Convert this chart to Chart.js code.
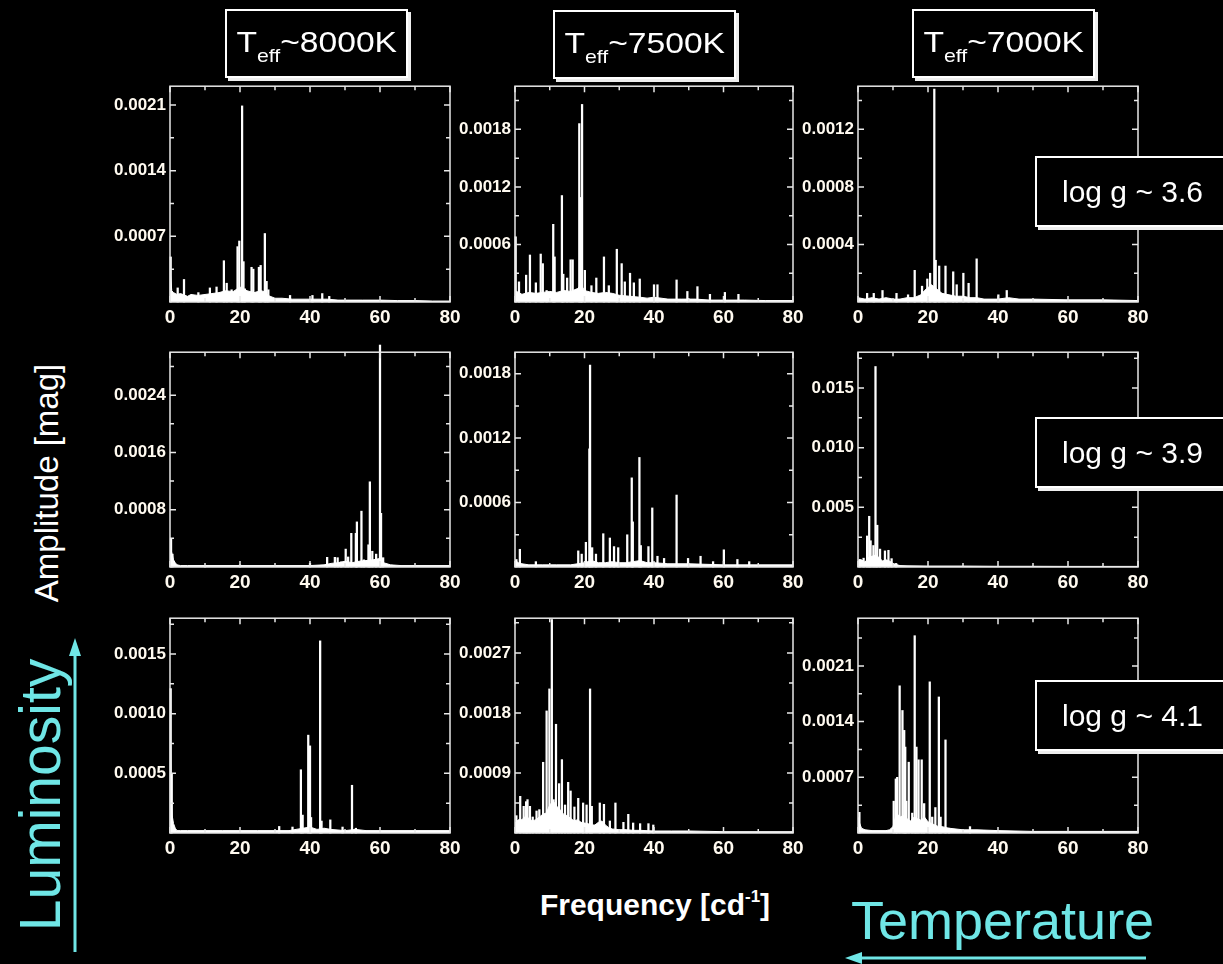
<!DOCTYPE html>
<html>
<head>
<meta charset="utf-8">
<script src="https://cdn.jsdelivr.net/npm/chart.js@4.4.1/dist/chart.umd.min.js"></script>
<style>
  body { margin: 0; background: #000; }
  #page { position: relative; width: 1223px; height: 964px; overflow: hidden; background: #000;
          font-family: "Liberation Sans", Arial, sans-serif; color: #fff; }
  .panel { position: absolute; z-index: 1; }
  .tbox { position: absolute; z-index: 2; box-sizing: border-box; border: 2px solid #fff; box-shadow: 3px 3px 0 #eee; background: #000; }
  .tbox .txt { position: absolute; left: 0; right: 0; line-height: 30px; font-size: 30px; white-space: nowrap; }
  .teff .txt { top: 16px; text-align: center; }
  .teff .inner { display: inline-block; transform: scaleX(1.12); }
  .teff .sub { font-size: 19px; vertical-align: -10px; }
  .logg .txt { top: 19px; left: 25px; }
  .vert { position: absolute; white-space: nowrap; transform: translate(-50%, -50%) rotate(-90deg); }
  .cyan { color: #6fe6e6; }
</style>
</head>
<body>
<div id="page">
  <div class="tbox teff" style="left:225px;top:9px;width:183px;height:69px"><div class="txt"><span class="inner">T<span class="sub">eff</span>~8000K</span></div></div>
  <div class="tbox teff" style="left:553px;top:10px;width:183px;height:69px"><div class="txt"><span class="inner">T<span class="sub">eff</span>~7500K</span></div></div>
  <div class="tbox teff" style="left:912px;top:9px;width:183px;height:69px"><div class="txt"><span class="inner">T<span class="sub">eff</span>~7000K</span></div></div>

  <div class="tbox logg" style="left:1035px;top:156px;width:210px;height:71px"><div class="txt">log g ~ 3.6</div></div>
  <div class="tbox logg" style="left:1035px;top:417px;width:210px;height:71px"><div class="txt">log g ~ 3.9</div></div>
  <div class="tbox logg" style="left:1035px;top:680px;width:210px;height:71px"><div class="txt">log g ~ 4.1</div></div>

  <div class="vert" style="left:47px;top:483px;font-size:33px">Amplitude [mag]</div>
  <div style="position:absolute;left:655px;top:882px;transform:translateX(-50%);font-size:30px;line-height:30px;font-weight:bold;white-space:nowrap">Frequency [cd<span style="font-size:17px;vertical-align:13px">-1</span>]</div>

  <div class="vert cyan" style="left:40px;top:795px;font-size:57px">Luminosity</div>
  <div class="cyan" style="position:absolute;left:851px;top:894px;font-size:54px;line-height:52px;white-space:nowrap">Temperature</div>

  <svg width="1223" height="964" style="position:absolute;left:0;top:0;pointer-events:none">
    <line x1="75" y1="952" x2="75" y2="650" stroke="#6fe6e6" stroke-width="3"/>
    <polygon points="75,638 69,656 81,656" fill="#6fe6e6"/>
    <line x1="1146" y1="958" x2="856" y2="958" stroke="#6fe6e6" stroke-width="3"/>
    <polygon points="845,958 862,952 862,964" fill="#6fe6e6"/>
  </svg>
</div>

<script>
// frequency axis (cd^-1)
const freqMin = 0;
const freqMax = 80;
const freqStep = 20;

// ---- Teff ~ 8000 K, log g ~ 3.6 ----
const peakFreq8000_36 = [0.2, 2.2, 4.0, 8.1, 11.4, 13.3, 15.4, 16.2, 17.6, 19.3, 19.8, 20.6, 21.0, 21.4, 23.3, 23.8, 25.4, 25.9, 27.1, 27.6, 28.1, 34.3, 40.7, 43.5, 45.5];
const peakAmp8000_36 = [0.00048, 0.00015, 0.00024, 0.0001, 0.00015, 0.00016, 0.00044, 0.0002, 0.00013, 0.00059, 0.00065, 0.00209, 0.00043, 0.00014, 0.00037, 0.00035, 0.00037, 0.00039, 0.00073, 0.00022, 0.00013, 0.00007, 0.00007, 0.00009, 0.00006];
const floorFreq8000_36 = [0, 0.5, 1, 2, 3, 5, 6, 8, 10, 12, 14, 16, 18, 20, 22, 24, 26, 27, 28, 30, 32, 35, 38, 40, 42, 45, 48, 50, 55, 60, 65, 70, 75, 80];
const floorAmp8000_36 = [0.00035, 0.00012, 0.0001, 0.00008, 0.00009, 0.00006, 0.00008, 0.00007, 0.00008, 0.00009, 0.0001, 0.00012, 0.00011, 0.00016, 0.00012, 0.0001, 0.00012, 0.00011, 0.00007, 0.00004, 0.00004, 0.00003, 0.00003, 0.00003, 0.00003, 0.00003, 0.00002, 0.00002, 0.00002, 0.00002, 0.000015, 0.000015, 0.00001, 0.00001];
const yLabels8000_36 = ['0.0007', '0.0014', '0.0021'];
const yMax8000_36 = 0.0023;

// ---- Teff ~ 7500 K, log g ~ 3.6 ----
const peakFreq7500_36 = [0.2, 1.15, 3.2, 4.3, 6.0, 7.4, 8.0, 9.1, 11.0, 11.4, 13.5, 13.9, 15.0, 16.0, 16.6, 18.5, 18.9, 19.3, 20.1, 22.0, 23.4, 25.6, 27.0, 29.3, 30.7, 31.6, 33.1, 34.2, 35.9, 40.0, 41.0, 46.5, 49.6, 52.5, 56.1, 60.4, 64.3];
const peakAmp7500_36 = [0.00068, 0.00021, 0.00028, 0.00049, 0.0002, 0.0005, 0.0004, 0.00012, 0.00081, 0.00047, 0.00111, 0.00029, 0.00025, 0.00044, 0.00044, 0.00186, 0.00109, 0.00206, 0.00033, 0.00017, 0.00025, 0.00047, 0.00017, 0.00055, 0.0004, 0.00021, 0.0003, 0.0002, 0.00024, 0.00018, 0.00018, 0.00023, 0.00011, 0.00016, 0.00008, 0.0001, 0.00008];
const floorFreq7500_36 = [0, 1, 2, 4, 6, 8, 10, 12, 14, 16, 18, 19, 20, 22, 24, 26, 28, 30, 33, 36, 38, 40, 44, 48, 52, 56, 60, 66, 72, 80];
const floorAmp7500_36 = [0.00012, 0.0001, 0.00008, 0.0001, 0.00009, 0.0001, 0.00011, 0.0001, 0.00012, 0.00011, 0.00014, 0.00018, 0.00012, 0.0001, 0.00009, 0.0001, 0.00009, 0.00007, 0.00006, 0.00005, 0.00004, 0.00005, 0.00003, 0.00003, 0.00003, 0.00002, 0.00002, 0.00002, 0.000015, 0.000015];
const yLabels7500_36 = ['0.0006', '0.0012', '0.0018'];
const yMax7500_36 = 0.00225;

// ---- Teff ~ 7000 K, log g ~ 3.6 ----
const peakFreq7000_36 = [2.6, 4.5, 7.0, 11.0, 14.3, 16.2, 18.3, 19.8, 20.6, 21.8, 22.2, 23.2, 25.0, 27.2, 28.2, 30.1, 31.6, 33.9, 40.1, 42.5];
const peakAmp7000_36 = [0.00006, 0.00006, 0.00008, 0.00006, 0.00005, 0.00022, 0.00011, 0.00016, 0.0002, 0.00148, 0.00029, 0.00025, 0.00025, 0.00021, 0.00012, 0.0002, 0.00013, 0.0003, 0.00005, 0.00008];
const floorFreq7000_36 = [0, 2, 4, 6, 8, 10, 12, 14, 16, 18, 19, 20, 21, 22, 23, 24, 26, 28, 30, 32, 34, 36, 40, 43, 46, 50, 60, 70, 80];
const floorAmp7000_36 = [0.00003, 0.00002, 0.00003, 0.00002, 0.00003, 0.00002, 0.00002, 0.00003, 0.00003, 0.00005, 0.00008, 0.0001, 0.00012, 0.0001, 0.00008, 0.00006, 0.00005, 0.00004, 0.00004, 0.00003, 0.00003, 0.00002, 0.00002, 0.00003, 0.00002, 0.00002, 0.000015, 0.000015, 0.00001];
const yLabels7000_36 = ['0.0004', '0.0008', '0.0012'];
const yMax7000_36 = 0.0015;

// ---- Teff ~ 8000 K, log g ~ 3.9 ----
const peakFreq8000_39 = [0.3, 0.7, 10.0, 20.0, 40.0, 44.9, 47.1, 47.9, 48.9, 50.2, 50.9, 51.8, 53.1, 53.4, 54.7, 55.4, 56.7, 57.1, 57.8, 58.9, 60.0, 60.3, 60.9];
const peakAmp8000_39 = [0.0004, 0.00018, 0.00002, 0.00003, 0.00005, 0.000135, 0.000135, 0.00013, 0.00007, 0.00025, 0.00014, 0.00047, 0.00047, 0.00063, 0.00078, 0.0001, 0.00031, 0.00119, 0.00022, 0.00018, 0.0031, 0.00075, 0.00013];
const floorFreq8000_39 = [0, 0.5, 1, 1.5, 2, 3, 5, 10, 20, 30, 40, 44, 46, 48, 50, 52, 54, 56, 58, 60, 61, 63, 66, 70, 80];
const floorAmp8000_39 = [0.0003, 0.0002, 0.0001, 0.00006, 0.00003, 0.00002, 0.00002, 0.00002, 0.00002, 0.00002, 0.00002, 0.00003, 0.00005, 0.00006, 0.00008, 0.00006, 0.00008, 0.00009, 0.0001, 0.00012, 0.00006, 0.00003, 0.00002, 0.00002, 0.00002];
const yLabels8000_39 = ['0.0008', '0.0016', '0.0024'];
const yMax8000_39 = 0.003;

// ---- Teff ~ 7500 K, log g ~ 3.9 ----
const peakFreq7500_39 = [0.4, 1.4, 6.0, 18.2, 19.2, 20.4, 21.4, 21.6, 22.2, 23.3, 25.4, 27.3, 28.5, 29.7, 32.3, 33.6, 33.9, 35.8, 36.2, 38.4, 39.5, 41.0, 42.9, 46.5, 49.8, 53.4, 57.0, 60.1, 64.0, 67.4];
const peakAmp7500_39 = [0.00007, 0.000165, 0.00005, 0.00015, 0.00012, 0.00023, 0.0011, 0.00188, 0.00018, 0.00012, 0.00031, 0.00027, 0.00019, 0.00018, 0.0003, 0.00083, 0.00042, 0.00102, 0.0002, 0.00019, 0.00055, 0.0001, 0.00008, 0.00067, 0.00008, 0.0001, 0.00005, 0.00016, 0.00007, 0.00005];
const floorFreq7500_39 = [0, 1, 2, 4, 8, 12, 16, 18, 20, 22, 24, 26, 28, 30, 32, 34, 36, 38, 40, 44, 50, 60, 70, 80];
const floorAmp7500_39 = [0.00006, 0.00004, 0.00003, 0.00002, 0.00002, 0.00002, 0.00002, 0.00003, 0.00004, 0.00006, 0.00004, 0.00004, 0.00005, 0.00004, 0.00004, 0.00005, 0.00006, 0.00004, 0.00004, 0.00003, 0.00003, 0.00002, 0.00002, 0.00002];
const yLabels7500_39 = ['0.0006', '0.0012', '0.0018'];
const yMax7500_39 = 0.002;

// ---- Teff ~ 7000 K, log g ~ 3.9 ----
const peakFreq7000_39 = [0.5, 1.6, 2.6, 3.2, 3.6, 4.4, 5.0, 5.5, 6.3, 7.7, 8.7, 9.6, 10.9];
const peakAmp7000_39 = [0.00064, 0.00074, 0.0026, 0.00425, 0.0022, 0.0018, 0.0168, 0.0035, 0.0015, 0.00135, 0.0014, 0.0007, 0.0003];
const floorFreq7000_39 = [0, 1, 2, 3, 4, 5, 6, 7, 8, 9, 10, 11, 12, 14, 20, 30, 40, 50, 60, 70, 80];
const floorAmp7000_39 = [0.0005, 0.0006, 0.0004, 0.0008, 0.0009, 0.001, 0.0008, 0.0005, 0.0006, 0.0005, 0.0003, 0.0002, 0.00012, 0.0001, 0.00008, 0.00008, 0.00006, 0.00006, 0.00005, 0.00005, 0.00005];
const yLabels7000_39 = ['0.005', '0.010', '0.015'];
const yMax7000_39 = 0.018;

// ---- Teff ~ 8000 K, log g ~ 4.1 ----
const peakFreq8000_41 = [0.2, 0.5, 31.2, 35.0, 37.4, 37.9, 39.5, 40.0, 40.3, 42.9, 43.3, 45.8, 49.3, 52.0, 53.1];
const peakAmp8000_41 = [0.00121, 0.0005, 0.000055, 0.00005, 0.00053, 0.00015, 0.00082, 0.00073, 0.00013, 0.00161, 0.0001, 0.00011, 0.00005, 0.0004, 0.00004];
const floorFreq8000_41 = [0, 0.3, 0.6, 1, 1.5, 2, 3, 5, 10, 15, 20, 25, 30, 34, 36, 38, 40, 42, 44, 46, 50, 53, 56, 60, 70, 80];
const floorAmp8000_41 = [0.0012, 0.0004, 0.00015, 0.00008, 0.00004, 0.00002, 0.00002, 0.00002, 0.00002, 0.00002, 0.00002, 0.00002, 0.00002, 0.00002, 0.00003, 0.00004, 0.00005, 0.00003, 0.00004, 0.00003, 0.00002, 0.00003, 0.00002, 0.00002, 0.00002, 0.00002];
const yLabels8000_41 = ['0.0005', '0.0010', '0.0015'];
const yMax8000_41 = 0.0018;

// ---- Teff ~ 7500 K, log g ~ 4.1 ----
const peakFreq7500_41 = [0.4, 1.5, 2.5, 3.2, 3.6, 4.3, 5.1, 6.2, 7.0, 8.1, 9.1, 9.9, 10.6, 11.1, 11.8, 12.7, 13.5, 14.4, 15.3, 16.0, 17.1, 18.2, 19.6, 20.6, 21.6, 22.1, 24.4, 25.6, 27.3, 28.9, 31.2, 32.6, 34.0, 36.0, 38.4, 39.8];
const peakAmp7500_41 = [0.00026, 0.00055, 0.0004, 0.00047, 0.0005, 0.0004, 0.00024, 0.00033, 0.00035, 0.00106, 0.00183, 0.00216, 0.0032, 0.0005, 0.00163, 0.00074, 0.0011, 0.00042, 0.00076, 0.00063, 0.00039, 0.00052, 0.00045, 0.00042, 0.00216, 0.0004, 0.00045, 0.00043, 0.00018, 0.00045, 0.00016, 0.00028, 0.00015, 0.00014, 0.00014, 0.00012];
const floorFreq7500_41 = [0, 1, 2, 3, 4, 5, 6, 7, 8, 9, 10, 11, 12, 13, 14, 15, 16, 17, 18, 19, 20, 21, 22, 23, 24, 25, 26, 27, 28, 30, 32, 34, 36, 40, 45, 50, 60, 70, 80];
const floorAmp7500_41 = [0.00015, 0.0002, 0.0002, 0.00025, 0.00022, 0.00018, 0.0002, 0.00024, 0.00028, 0.0003, 0.00042, 0.00048, 0.0004, 0.00035, 0.00028, 0.00026, 0.00022, 0.00018, 0.0002, 0.00016, 0.00015, 0.00014, 0.00012, 0.00012, 0.00016, 0.00018, 0.00012, 0.00008, 0.00006, 0.00005, 0.00005, 0.00004, 0.00004, 0.00003, 0.00003, 0.00003, 0.00002, 0.00002, 0.00002];
const yLabels7500_41 = ['0.0009', '0.0018', '0.0027'];
const yMax7500_41 = 0.00322;

// ---- Teff ~ 7000 K, log g ~ 4.1 ----
const peakFreq7000_41 = [0.4, 10.2, 10.8, 11.2, 11.9, 12.7, 13.2, 13.5, 13.8, 14.5, 15.5, 16.2, 16.7, 17.3, 18.2, 18.9, 20.5, 21.2, 22.1, 23.1, 23.6, 25.0, 26.0, 32.0];
const peakAmp7000_41 = [0.00026, 0.0004, 0.00068, 0.0007, 0.00185, 0.00154, 0.00129, 0.00108, 0.0004, 0.00089, 0.00025, 0.00248, 0.00108, 0.00092, 0.00092, 0.00037, 0.0019, 0.0002, 0.00032, 0.00171, 0.0002, 0.00117, 0.00006, 0.00008];
const floorFreq7000_41 = [0, 0.5, 1, 2, 4, 6, 8, 9, 10, 11, 12, 13, 14, 15, 16, 17, 18, 19, 20, 21, 22, 23, 24, 25, 26, 28, 30, 34, 40, 50, 60, 70, 80];
const floorAmp7000_41 = [0.0002, 0.00012, 0.00006, 0.00004, 0.00003, 0.00003, 0.00003, 0.00004, 0.00008, 0.00025, 0.0002, 0.00022, 0.00018, 0.00015, 0.0002, 0.00018, 0.00016, 0.0002, 0.00014, 0.00012, 0.0001, 0.00008, 0.00008, 0.00007, 0.00006, 0.00005, 0.00004, 0.00004, 0.00003, 0.00002, 0.00002, 0.00002, 0.00002];
const yLabels7000_41 = ['0.0007', '0.0014', '0.0021'];
const yMax7000_41 = 0.0027;

// grid of spectra: rows = log g, columns = Teff
const panels = [
  [peakFreq8000_36, peakAmp8000_36, floorFreq8000_36, floorAmp8000_36, yLabels8000_36, yMax8000_36],
  [peakFreq7500_36, peakAmp7500_36, floorFreq7500_36, floorAmp7500_36, yLabels7500_36, yMax7500_36],
  [peakFreq7000_36, peakAmp7000_36, floorFreq7000_36, floorAmp7000_36, yLabels7000_36, yMax7000_36],
  [peakFreq8000_39, peakAmp8000_39, floorFreq8000_39, floorAmp8000_39, yLabels8000_39, yMax8000_39],
  [peakFreq7500_39, peakAmp7500_39, floorFreq7500_39, floorAmp7500_39, yLabels7500_39, yMax7500_39],
  [peakFreq7000_39, peakAmp7000_39, floorFreq7000_39, floorAmp7000_39, yLabels7000_39, yMax7000_39],
  [peakFreq8000_41, peakAmp8000_41, floorFreq8000_41, floorAmp8000_41, yLabels8000_41, yMax8000_41],
  [peakFreq7500_41, peakAmp7500_41, floorFreq7500_41, floorAmp7500_41, yLabels7500_41, yMax7500_41],
  [peakFreq7000_41, peakAmp7000_41, floorFreq7000_41, floorAmp7000_41, yLabels7000_41, yMax7000_41]
];

// plot-area edges on the page
const colLeft = [170, 515, 858];
const colRight = [450, 793, 1138];
const rowTop = [86, 352, 618];
const rowBottom = [302, 567, 833];
const AXIS_W = 72, AXIS_H = 34, PAD_T = 14, PAD_R = 22;
const textColor = '#fffaf0';

// box around the plot area with inward ticks on all four sides
const frame = {
  id: 'frame',
  afterDatasetsDraw(chart) {
    const { ctx, chartArea: a, scales: { x, y } } = chart;
    ctx.save();
    ctx.strokeStyle = '#e8e8e8';
    ctx.lineWidth = 1.5;
    ctx.strokeRect(a.left, a.top, a.width, a.height);
    ctx.beginPath();
    for (let v = freqMin; v <= freqMax; v += freqStep / 2) {
      const px = x.getPixelForValue(v);
      const len = v % freqStep === 0 ? 6 : 4;
      ctx.moveTo(px, a.bottom); ctx.lineTo(px, a.bottom - len);
      ctx.moveTo(px, a.top); ctx.lineTo(px, a.top + len);
    }
    const half = (y.ticks[1].value - y.ticks[0].value) / 2;
    for (let k = 1; k * half < y.max; k++) {
      const py = y.getPixelForValue(k * half);
      const len = k % 2 === 0 ? 6 : 4;
      ctx.moveTo(a.left, py); ctx.lineTo(a.left + len, py);
      ctx.moveTo(a.right, py); ctx.lineTo(a.right - len, py);
    }
    ctx.stroke();
    ctx.restore();
  }
};

const page = document.getElementById('page');

panels.forEach((p, i) => {
  const [peakF, peakA, floorF, floorA, yLabels, yMax] = p;
  const row = Math.floor(i / 3), col = i % 3;

  const canvas = document.createElement('canvas');
  canvas.className = 'panel';
  canvas.width = colRight[col] - colLeft[col] + AXIS_W + PAD_R;
  canvas.height = rowBottom[row] - rowTop[row] + AXIS_H + PAD_T;
  canvas.style.left = (colLeft[col] - AXIS_W) + 'px';
  canvas.style.top = (rowTop[row] - PAD_T) + 'px';
  page.appendChild(canvas);

  new Chart(canvas.getContext('2d'), {
    type: 'bar',
    data: {
      datasets: [
        {
          type: 'line',
          data: floorF.map((f, j) => ({ x: f, y: floorA[j] })),
          borderColor: '#fff',
          backgroundColor: '#fff',
          borderWidth: 1,
          pointRadius: 0,
          tension: 0,
          fill: 'origin',
          order: 2
        },
        {
          type: 'bar',
          data: peakF.map((f, j) => ({ x: f, y: peakA[j] })),
          backgroundColor: '#fff',
          borderWidth: 0,
          barThickness: 1.6,
          clip: false,
          order: 1
        }
      ]
    },
    options: {
      responsive: false,
      animation: false,
      layout: { padding: { top: PAD_T, right: PAD_R, left: 0, bottom: 0 } },
      plugins: { legend: { display: false }, tooltip: { enabled: false } },
      scales: {
        x: {
          type: 'linear',
          min: freqMin,
          max: freqMax,
          offset: false,
          grid: { display: false, drawTicks: false },
          border: { display: false },
          ticks: { stepSize: freqStep, color: textColor, padding: 4, maxRotation: 0, autoSkip: false,
                   font: { family: 'Liberation Sans, Arial', weight: 'bold', size: 19 } },
          afterFit: s => { s.height = AXIS_H; }
        },
        y: {
          min: 0,
          max: yMax,
          grid: { display: false, drawTicks: false },
          border: { display: false },
          afterBuildTicks: s => { s.ticks = yLabels.map(l => ({ value: parseFloat(l) })); },
          ticks: { color: textColor, padding: 4, autoSkip: false,
                   font: { family: 'Liberation Sans, Arial', weight: 'bold', size: 17 },
                   callback: (v, idx) => yLabels[idx] },
          afterFit: s => { s.width = AXIS_W; }
        }
      }
    },
    plugins: [frame]
  });
});
</script>
</body>
</html>
